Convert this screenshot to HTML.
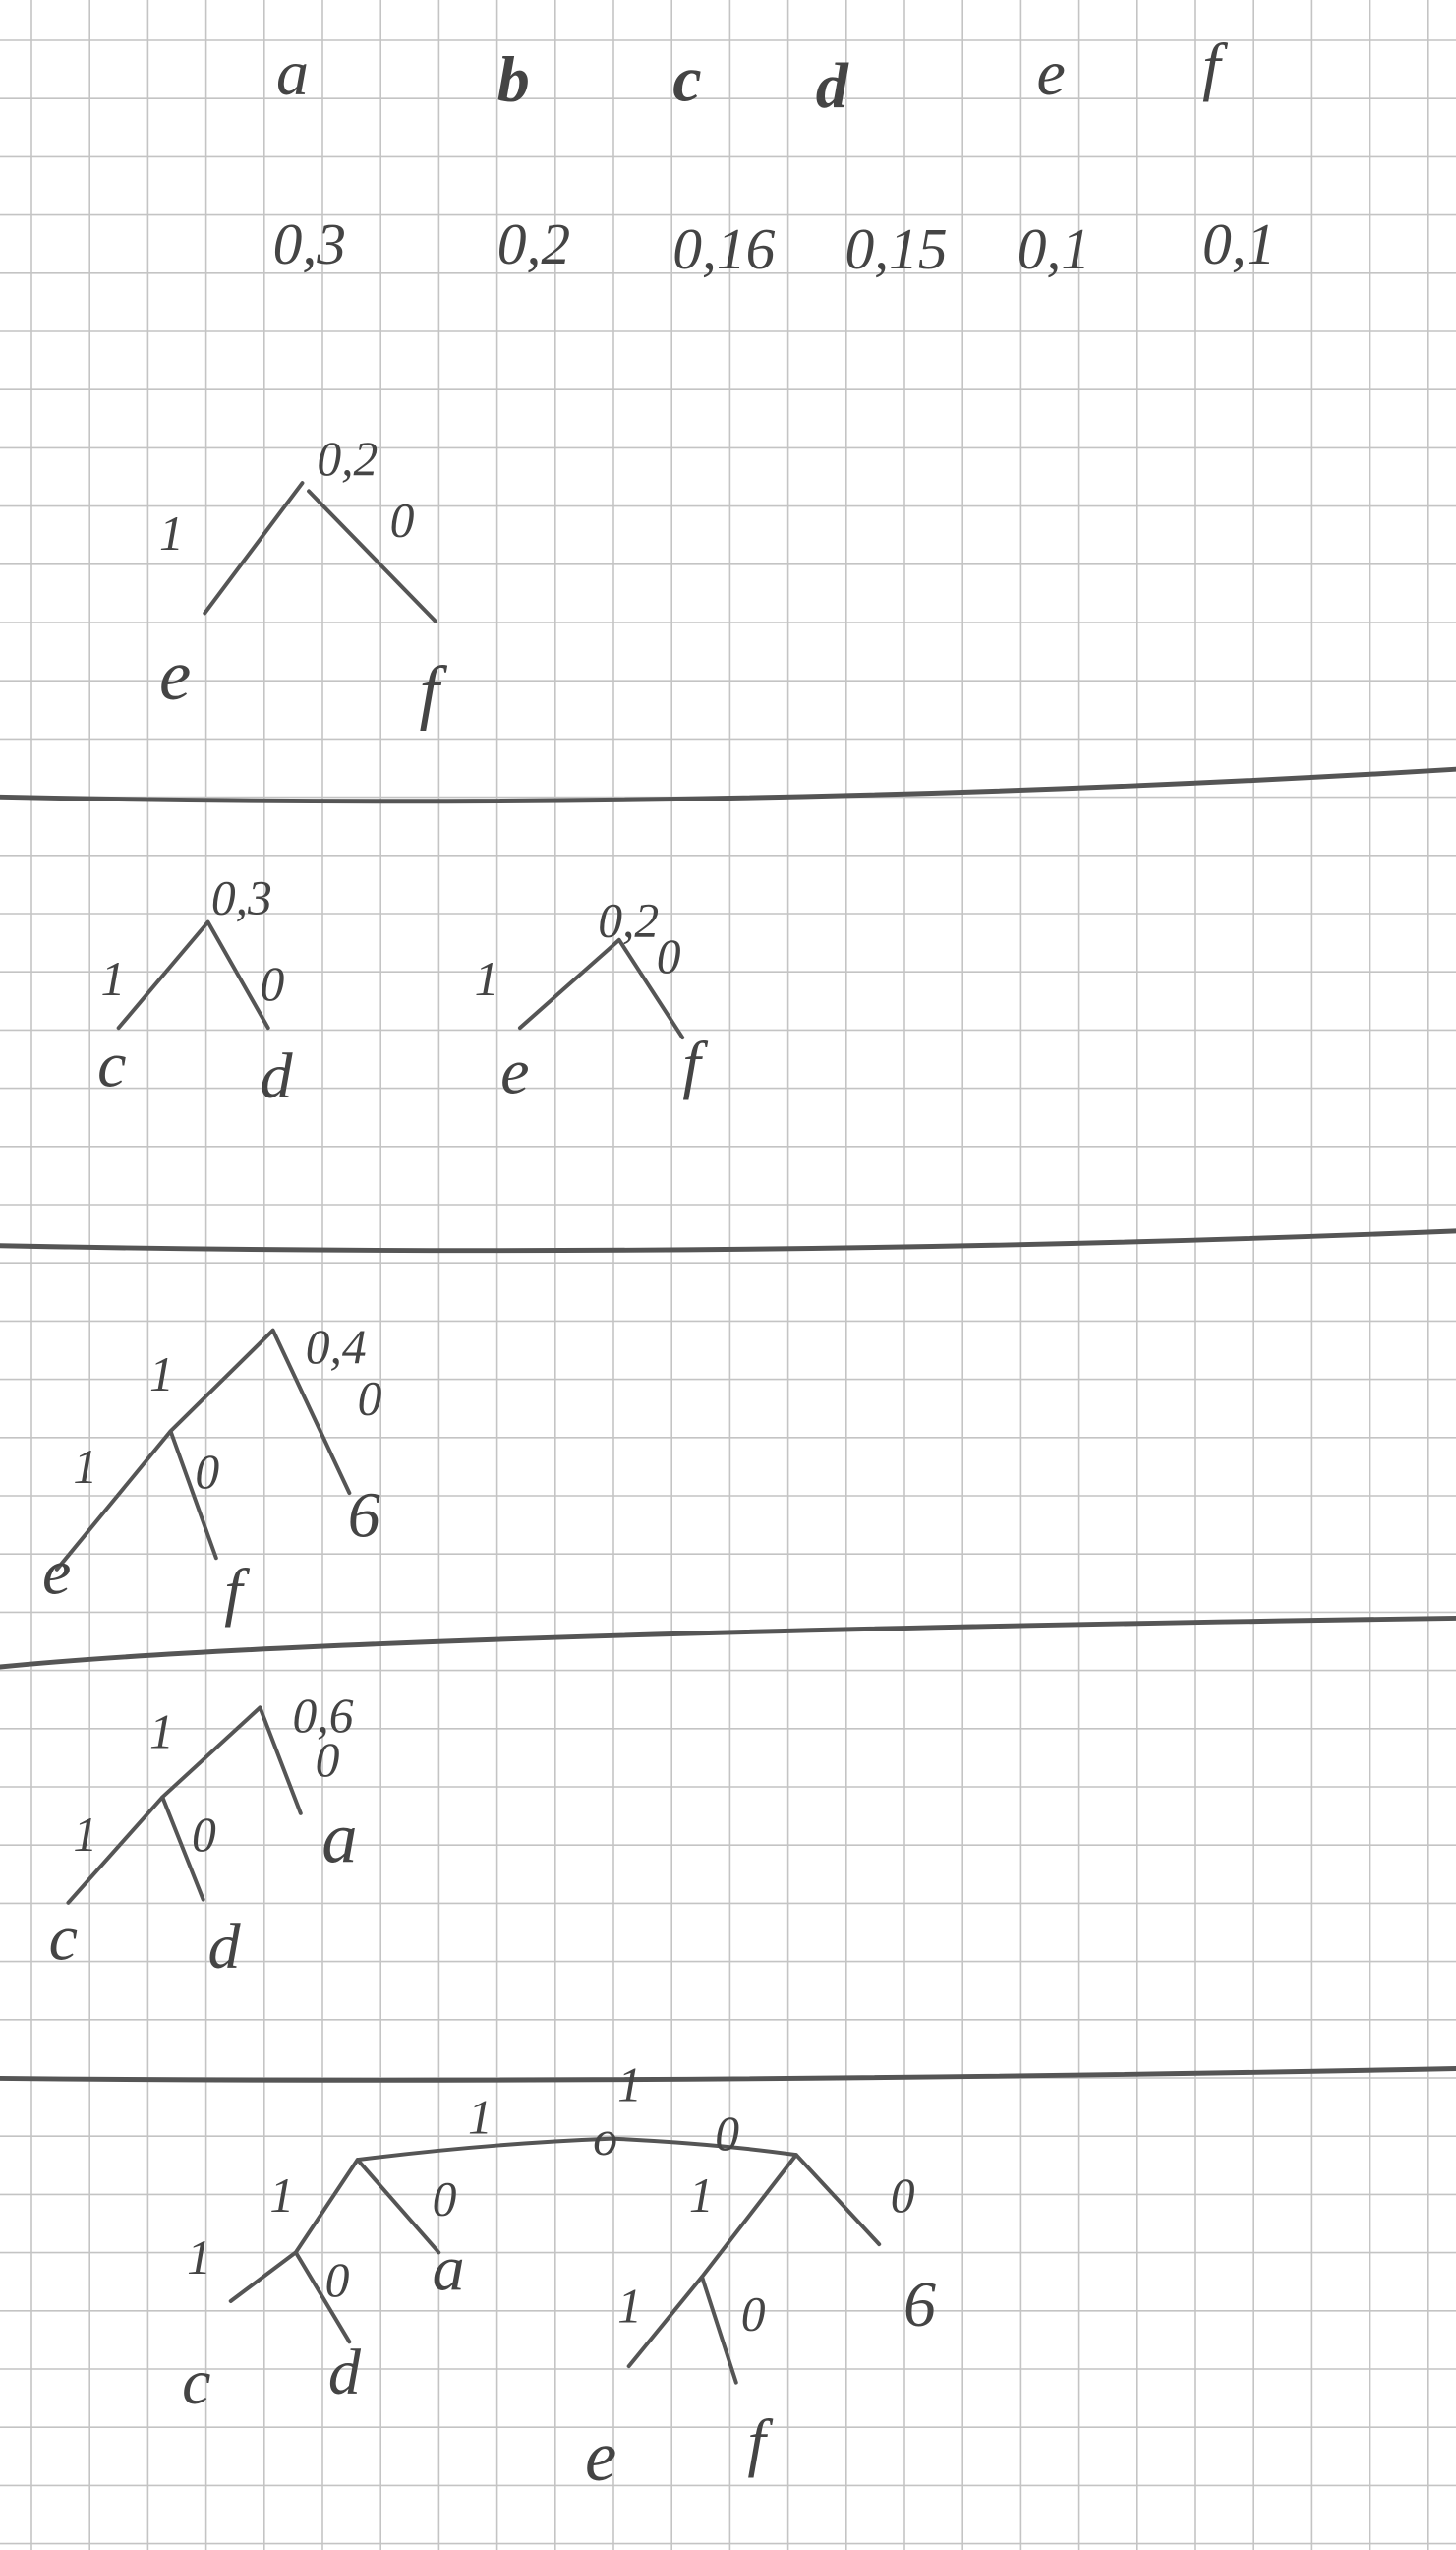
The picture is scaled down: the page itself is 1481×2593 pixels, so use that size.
<!DOCTYPE html>
<html><head><meta charset="utf-8"><style>
html,body{margin:0;padding:0;background:#fff;}
svg{position:absolute;left:0;top:0;}
text{font-family:"Liberation Serif",serif;font-style:italic;fill:#444;}
</style></head><body>
<svg width="1481" height="2593" id="grid"></svg>
<svg width="1481" height="2593" viewBox="0 0 896 1568" preserveAspectRatio="none">
<g font-size="40">
<text x="170" y="58">a</text><text x="306" y="62" font-weight="bold">b</text><text x="414" y="62" font-weight="bold">c</text>
<text x="502" y="66" font-weight="bold">d</text><text x="638" y="58">e</text><text x="740" y="54">f</text>
</g>
<g font-size="36">
<text x="168" y="162">0,3</text><text x="306" y="162">0,2</text><text x="414" y="165">0,16</text>
<text x="520" y="165">0,15</text><text x="626" y="165">0,1</text><text x="740" y="162">0,1</text>
</g>
<g stroke="#555" stroke-width="2.4" fill="none" stroke-linecap="round">
<path d="M186 297 L126 377 M190 302 L268 382"/>
<path d="M0 490 Q450 500 896 473" stroke-width="3"/>
<path d="M128 567 L73 632 M128 567 L165 632 M381 578 L320 632 M381 578 L420 638"/>
<path d="M0 766 Q450 775 896 757" stroke-width="3"/>
<path d="M168 818 L105 880 L35 965 M168 818 L215 918 M105 880 L133 958"/>
<path d="M0 1025 Q200 1005 896 995" stroke-width="3"/>
<path d="M160 1050 L100 1105 L42 1170 M100 1105 L125 1168 M160 1050 L185 1115"/>
<path d="M0 1278 Q400 1282 896 1272" stroke-width="3"/>
<path d="M220 1328 Q300 1318 377 1315 Q440 1318 490 1325 M220 1328 L182 1385 L142 1415 M182 1385 L215 1440 M220 1328 L270 1385 M490 1325 L541 1380 M490 1325 L432 1400 L387 1455 M432 1400 L453 1465"/>
</g>
<g font-size="30">
<text x="195" y="292">0,2</text><text x="98" y="338">1</text><text x="240" y="330">0</text>
<text x="98" y="430" font-size="44">e</text><text x="258" y="440" font-size="44">f</text>
<text x="130" y="562">0,3</text><text x="62" y="612">1</text><text x="160" y="615">0</text>
<text x="60" y="668" font-size="40">c</text><text x="160" y="675" font-size="40">d</text>
<text x="368" y="576">0,2</text><text x="292" y="612">1</text><text x="404" y="598">0</text>
<text x="308" y="672" font-size="40">e</text><text x="420" y="668" font-size="40">f</text>
<text x="188" y="838">0,4</text><text x="92" y="855">1</text><text x="220" y="870">0</text><text x="45" y="912">1</text><text x="120" y="915">0</text>
<text x="214" y="945" font-size="40">6</text><text x="26" y="980" font-size="40">e</text><text x="138" y="992" font-size="40">f</text>
<text x="180" y="1065">0,6</text><text x="92" y="1075">1</text><text x="194" y="1092">0</text><text x="45" y="1138">1</text><text x="118" y="1138">0</text>
<text x="198" y="1145" font-size="44">a</text><text x="30" y="1205" font-size="40">c</text><text x="128" y="1210" font-size="40">d</text>
<text x="380" y="1292">1</text><text x="288" y="1312">1</text><text x="440" y="1322">0</text><text x="365" y="1325">o</text>
<text x="166" y="1360">1</text><text x="266" y="1362">0</text><text x="115" y="1398">1</text><text x="200" y="1412">0</text>
<text x="266" y="1408" font-size="40">a</text><text x="112" y="1478" font-size="40">c</text><text x="202" y="1472" font-size="40">d</text>
<text x="424" y="1360">1</text><text x="548" y="1360">0</text><text x="380" y="1428">1</text><text x="456" y="1433">0</text>
<text x="556" y="1430" font-size="40">6</text><text x="360" y="1525" font-size="44">e</text><text x="460" y="1515" font-size="40">f</text>
</g>
</svg>
<script>
const g=document.getElementById('grid');
const ns='http://www.w3.org/2000/svg';
const sp=59.2;
for(let x=32;x<1481;x+=sp){const l=document.createElementNS(ns,'line');


l.setAttribute('x1',x);l.setAttribute('x2',x);l.setAttribute('y1',0);l.setAttribute('y2',2593);
l.setAttribute('stroke','#c4c4c4');l.setAttribute('stroke-width','1.6');g.appendChild(l);}
for(let y=41;y<2593;y+=sp){const l=document.createElementNS(ns,'line');


l.setAttribute('y1',y);l.setAttribute('y2',y);l.setAttribute('x1',0);l.setAttribute('x2',1481);
l.setAttribute('stroke','#c4c4c4');l.setAttribute('stroke-width','1.6');g.appendChild(l);}
</script>
</body></html>
